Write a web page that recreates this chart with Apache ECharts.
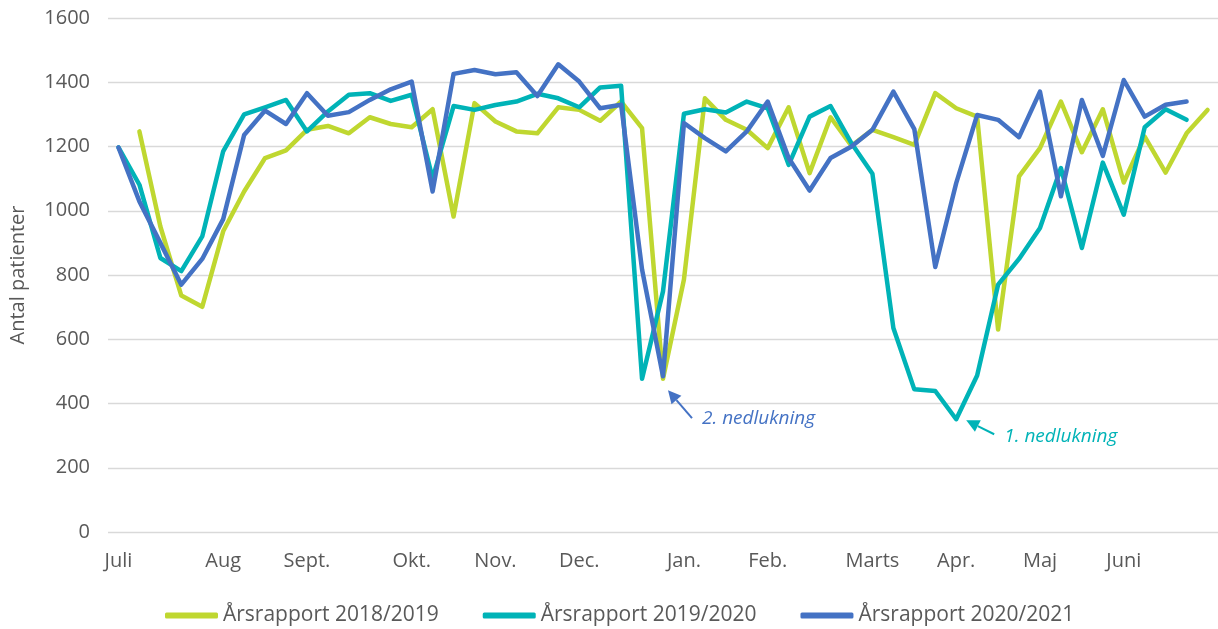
<!DOCTYPE html>
<html>
<head>
<meta charset="utf-8">
<script src="https://cdn.jsdelivr.net/npm/echarts@6/dist/echarts.min.js"></script>
<style>
html, body { margin: 0; padding: 0; background: #fff; }
#chart { width: 1218px; height: 629px; }
</style>
</head>
<body>
<div id="chart"></div>
<script>
// month labels and the week index where each one sits
var monthNames = ["Juli", "Aug", "Sept.", "Okt.", "Nov.", "Dec.", "Jan.", "Feb.", "Marts", "Apr.", "Maj", "Juni"];
var monthWeek = [0, 5, 9, 14, 18, 22, 27, 31, 36, 40, 44, 48];
var weekCount = 53;

var yTicks = [0, 200, 400, 600, 800, 1000, 1200, 1400, 1600];

var seriesNames = ["Årsrapport 2018/2019", "Årsrapport 2019/2020", "Årsrapport 2020/2021"];

var ar1819 = [null, 1247, 951, 736, 701, 936, 1060, 1164, 1188, 1252, 1264, 1241, 1291, 1270, 1260, 1316,
  982, 1335, 1278, 1247, 1241, 1322, 1314, 1280, 1340, 1257, 477, 786, 1350, 1283, 1252, 1195, 1322, 1117,
  1291, 1202, 1252, 1229, 1205, 1366, 1319, 1293, 630, 1107, 1195, 1340, 1182, 1316, 1088, 1231, 1119, 1241, 1314];

var ar1920 = [1197, 1081, 853, 812, 920, 1185, 1300, 1322, 1345, 1247, 1309, 1361, 1366, 1342, 1361, 1100,
  1326, 1314, 1329, 1340, 1364, 1350, 1322, 1384, 1389, 477, 749, 1302, 1316, 1306, 1340, 1319, 1143, 1293,
  1326, 1210, 1115, 635, 444, 439, 351, 487, 770, 850, 946, 1133, 884, 1150, 988, 1260, 1316, 1283, null];

var ar2021 = [1197, 1029, 900, 770, 850, 974, 1236, 1312, 1270, 1366, 1296, 1307, 1345, 1378, 1402, 1060,
  1426, 1438, 1425, 1431, 1357, 1456, 1402, 1319, 1330, 817, 485, 1273, 1226, 1185, 1247, 1340, 1164, 1063,
  1164, 1200, 1252, 1371, 1254, 825, 1086, 1298, 1283, 1229, 1371, 1045, 1345, 1171, 1407, 1293, 1330, 1340, null];

// the two lockdown notes: which series, which week
var notes = [
  { text: "2. nedlukning", series: 2, week: 26 },
  { text: "1. nedlukning", series: 1, week: 40 }
];

var colors = ["#BFD730", "#00B3B7", "#4472C4"];
var fontFam = "'Open Sans', 'Noto Sans', sans-serif";

var categories = [];
for (var i = 0; i < weekCount; i++) {
  var k = monthWeek.indexOf(i);
  categories.push(k >= 0 ? monthNames[k] : "");
}

function lineSeries(name, data, color) {
  return {
    name: name,
    type: "line",
    data: data,
    symbol: "none",
    showSymbol: false,
    color: color,
    lineStyle: { color: color, width: 4.5, cap: "round", join: "round" }
  };
}

var dom = document.getElementById("chart");
var myChart = echarts.init(dom, null, { renderer: "canvas" });

var option = {
  animation: false,
  backgroundColor: "#fff",
  grid: { left: 108, right: 0, top: 18, bottom: 97, containLabel: false },
  legend: {
    data: seriesNames,
    left: 160,
    top: 600,
    icon: "roundRect",
    itemWidth: 53,
    itemHeight: 6,
    itemGap: 44,
    textStyle: { color: "#595959", fontSize: 21, fontFamily: fontFam }
  },
  xAxis: {
    type: "category",
    boundaryGap: true,
    data: categories,
    axisLine: { show: false },
    axisTick: { show: false },
    axisLabel: {
      interval: 0,
      color: "#595959",
      fontSize: 20,
      fontFamily: fontFam,
      margin: 19
    }
  },
  yAxis: {
    type: "value",
    min: yTicks[0],
    max: yTicks[yTicks.length - 1],
    interval: 200,
    name: "Antal patienter",
    nameLocation: "middle",
    nameGap: 80,
    nameTextStyle: { color: "#595959", fontSize: 20, fontFamily: fontFam },
    axisLine: { show: false },
    axisTick: { show: false },
    axisLabel: {
      color: "#595959",
      fontSize: 20,
      fontFamily: fontFam,
      margin: 18,
      formatter: function (v) { return String(v); }
    },
    splitLine: { lineStyle: { color: "#D9D9D9", width: 1.3 } }
  },
  series: [
    lineSeries(seriesNames[0], ar1819, colors[0]),
    lineSeries(seriesNames[1], ar1920, colors[1]),
    lineSeries(seriesNames[2], ar2021, colors[2])
  ]
};
myChart.setOption(option);

// arrows + italic notes, placed relative to the lowest points
var allData = [ar1819, ar1920, ar2021];
var offsets = [
  { head: [5, 14], tail: [29, 42], text: [39, 42] },
  { head: [10, 1], tail: [38, 15], text: [48, 17] }
];
var graphics = [];
notes.forEach(function (n, idx) {
  var p = myChart.convertToPixel({ gridIndex: 0 }, [n.week, allData[n.series][n.week]]);
  var o = offsets[idx];
  var c = colors[n.series];
  var hx = p[0] + o.head[0], hy = p[1] + o.head[1];
  var tx = p[0] + o.tail[0], ty = p[1] + o.tail[1];
  var dx = hx - tx, dy = hy - ty;
  var len = Math.sqrt(dx * dx + dy * dy);
  var ux = dx / len, uy = dy / len;
  var bx = hx - ux * 13, by = hy - uy * 13;
  graphics.push({
    type: "line",
    shape: { x1: tx, y1: ty, x2: bx, y2: by },
    style: { stroke: c, lineWidth: 2 }
  });
  graphics.push({
    type: "polygon",
    shape: { points: [[hx, hy], [bx - uy * 6.5, by + ux * 6.5], [bx + uy * 6.5, by - ux * 6.5]] },
    style: { fill: c }
  });
  graphics.push({
    type: "text",
    x: p[0] + o.text[0],
    y: p[1] + o.text[1],
    style: {
      text: n.text,
      fill: c,
      fontSize: 19,
      fontStyle: "italic",
      fontFamily: fontFam,
      verticalAlign: "middle",
      align: "left"
    }
  });
});
myChart.setOption({ graphic: graphics });
</script>
</body>
</html>
